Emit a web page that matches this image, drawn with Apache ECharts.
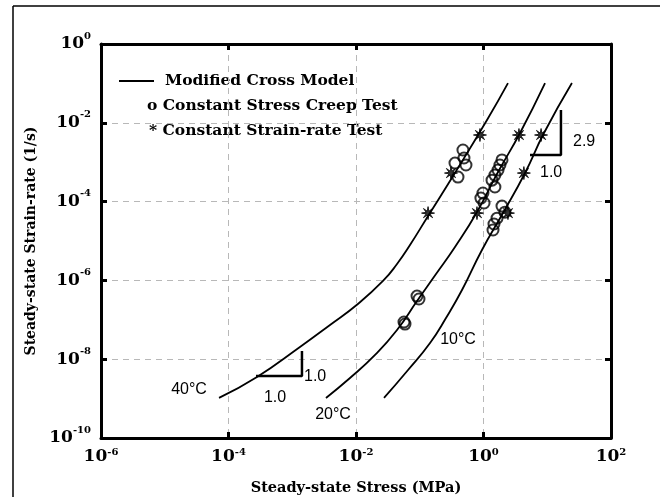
<!DOCTYPE html>
<html>
<head>
<meta charset="utf-8">
<script src="https://cdn.jsdelivr.net/npm/echarts@6/dist/echarts.min.js"></script>
<style>
  html, body { margin: 0; padding: 0; background: #fff; }
  #chart { width: 660px; height: 497px; }
</style>
</head>
<body>
<div id="chart"></div>
<script>
// Modified Cross Model curves: [stress (MPa), strain-rate (1/s)]
const curve40 = [
  [7.10e-5, 1.04e-9], [2.80e-4, 3.53e-9], [1.32e-3, 2.04e-8], [3.91e-3, 7.38e-8],
  [1.07e-2, 2.52e-7], [2.65e-2, 9.66e-7], [4.40e-2, 2.61e-6], [7.03e-2, 7.91e-6],
  [0.135, 4.31e-5], [0.333, 4.47e-4], [1.135, 1.18e-2], [2.42, 0.102]
]
const curve20 = [
  [3.38e-3, 1.04e-9], [8.05e-3, 3.33e-9], [1.99e-2, 1.28e-8], [4.40e-2, 5.51e-8],
  [9.06e-2, 3.00e-7], [0.180, 1.45e-6], [0.357, 7.04e-6], [0.791, 5.45e-5],
  [1.69, 5.64e-4], [3.74, 5.51e-3], [9.23, 0.102]
]
const curve10 = [
  [2.75e-2, 1.04e-9], [6.55e-2, 5.32e-9], [0.145, 2.58e-8], [0.258, 1.11e-7],
  [0.460, 5.70e-7], [0.946, 5.91e-6], [2.02, 5.14e-5], [4.48, 5.32e-4],
  [8.89, 5.51e-3], [24.4, 0.102]
]
// constant stress creep test (o)
const creepTest = [
  [0.476, 2.04e-3], [0.494, 1.28e-3], [0.357, 9.5e-4], [0.531, 8.5e-4], [0.398, 4.2e-4],
  [1.95, 1.14e-3], [1.81, 8.5e-4], [1.69, 6.3e-4], [1.51, 4.7e-4], [1.36, 3.5e-4],
  [1.51, 2.35e-4], [0.98, 1.65e-4], [0.91, 1.23e-4], [1.02, 9.2e-5],
  [1.95, 7.7e-5], [2.17, 5.4e-5], [1.63, 3.8e-5], [1.46, 2.7e-5], [1.41, 1.9e-5],
  [0.0906, 4.0e-7], [0.0973, 3.37e-7], [0.0566, 8.8e-8], [0.0587, 7.8e-8]
]
// constant strain-rate test (*)
const strainRateTest = [
  [0.88, 4.9e-3], [3.6, 4.9e-3], [8.0, 4.9e-3],
  [0.309, 5.3e-4], [4.3, 5.3e-4],
  [0.135, 5.1e-5], [0.79, 5.1e-5], [2.42, 5.1e-5]
]
// slope triangles
const slopeUpper = [[5.36, 1.52e-3], [16.4, 1.52e-3], [16.4, 2.11e-2]]
const slopeLower = [[2.70e-4, 3.75e-9], [1.42e-3, 3.75e-9], [1.42e-3, 1.61e-8]]

const toLog = arr => arr.map(p => [Math.log10(p[0]), Math.log10(p[1])])

// 8-armed asterisk shape
function asteriskPath() {
  const pts = []
  for (let k = 0; k < 16; k++) {
    const a = (k * 22.5 - 90) * Math.PI / 180
    const r = k % 2 === 0 ? 10 : 3.2
    pts.push((10 + r * Math.cos(a)).toFixed(2) + ',' + (10 + r * Math.sin(a)).toFixed(2))
  }
  return 'path://M' + pts.join('L') + 'Z'
}

const serif = 'DejaVu Serif'
const sans = 'Liberation Sans'
const richFor = lh => ({
  b: { fontFamily: serif, fontWeight: 'bold', fontSize: 17, color: '#000', lineHeight: lh },
  s: { fontFamily: serif, fontWeight: 'bold', fontSize: 10, color: '#000', verticalAlign: 'top', lineHeight: lh }
})
const expLabel = v => '{b|10}{s|' + Math.round(v) + '}'

const chart = echarts.init(document.getElementById('chart'))

const boxAxis = {
  axisLine: { show: true, onZero: false, lineStyle: { color: '#000', width: 3 } },
  axisTick: { show: true, inside: true, length: 6, lineStyle: { color: '#000', width: 3 } },
  axisLabel: { show: false },
  splitLine: { show: false }
}

const curveLine = {
  type: 'line',
  xAxisIndex: 0,
  yAxisIndex: 0,
  showSymbol: false,
  smooth: 0.5,
  silent: true,
  lineStyle: { color: '#000', width: 1.8 }
}

const annotation = (text, x, y, align) => ({
  type: 'text',
  x: x,
  y: y,
  style: {
    text: text,
    fontFamily: sans,
    fontSize: 16,
    fill: '#000',
    align: align || 'center',
    verticalAlign: 'middle'
  }
})

const legendText = (text, x, y) => ({
  type: 'text',
  x: x,
  y: y,
  style: {
    text: text,
    fontFamily: serif,
    fontWeight: 'bold',
    fontSize: 15.5,
    fill: '#000',
    align: 'left',
    verticalAlign: 'middle'
  }
})

chart.setOption({
  animation: false,
  backgroundColor: '#fff',
  grid: { left: 101, top: 44, width: 510, height: 394, outerBoundsMode: 'none', containLabel: false },
  xAxis: [
    {
      type: 'value',
      position: 'bottom',
      min: -6,
      max: 2,
      interval: 2,
      name: 'Steady-state Stress (MPa)',
      nameLocation: 'middle',
      nameGap: 43,
      nameTextStyle: { fontFamily: serif, fontWeight: 'bold', fontSize: 14.5, color: '#000' },
      axisLine: { onZero: false, lineStyle: { color: '#000', width: 3 } },
      axisTick: { inside: true, length: 6, lineStyle: { color: '#000', width: 3 } },
      axisLabel: { formatter: expLabel, rich: richFor(20), margin: 9 },
      splitLine: { show: true, lineStyle: { color: '#b8b8b8', width: 1, type: [6, 5] } }
    },
    Object.assign({ type: 'value', position: 'top', min: -6, max: 2, interval: 2 }, boxAxis)
  ],
  yAxis: [
    {
      type: 'value',
      position: 'left',
      min: -10,
      max: 0,
      interval: 2,
      name: 'Steady-state Strain-rate (1/s)',
      nameLocation: 'middle',
      nameGap: 61,
      nameTextStyle: { fontFamily: serif, fontWeight: 'bold', fontSize: 14, color: '#000' },
      axisLine: { show: true, onZero: false, lineStyle: { color: '#000', width: 3 } },
      axisTick: { show: true, inside: true, length: 6, lineStyle: { color: '#000', width: 3 } },
      axisLabel: { formatter: expLabel, rich: richFor(26), margin: 10 },
      splitLine: { show: true, lineStyle: { color: '#b8b8b8', width: 1, type: [6, 5] } }
    },
    Object.assign({ type: 'value', position: 'right', min: -10, max: 0, interval: 2 }, boxAxis)
  ],
  series: [
    Object.assign({ name: '40°C', data: toLog(curve40) }, curveLine),
    Object.assign({ name: '20°C', data: toLog(curve20) }, curveLine),
    Object.assign({ name: '10°C', data: toLog(curve10) }, curveLine),
    {
      name: 'Constant Stress Creep Test',
      type: 'scatter',
      data: toLog(creepTest),
      symbol: 'circle',
      symbolSize: 11,
      silent: true,
      itemStyle: { color: 'rgba(0,0,0,0)', borderColor: '#000', borderWidth: 2 }
    },
    {
      name: 'Constant Strain-rate Test',
      type: 'scatter',
      data: toLog(strainRateTest),
      symbol: asteriskPath(),
      symbolSize: 13,
      silent: true,
      itemStyle: { color: '#000', borderColor: '#000', borderWidth: 1 }
    },
    {
      type: 'line',
      data: toLog(slopeUpper),
      showSymbol: false,
      silent: true,
      lineStyle: { color: '#000', width: 2.5 }
    },
    {
      type: 'line',
      data: toLog(slopeLower),
      showSymbol: false,
      silent: true,
      lineStyle: { color: '#000', width: 2.5 }
    }
  ],
  graphic: [
    // outer frame
    { type: 'line', shape: { x1: 13, y1: 6, x2: 660, y2: 6 }, style: { stroke: '#000', lineWidth: 1.5 } },
    { type: 'line', shape: { x1: 13, y1: 6, x2: 13, y2: 497 }, style: { stroke: '#000', lineWidth: 1.5 } },
    // legend
    { type: 'line', shape: { x1: 119, y1: 81, x2: 154, y2: 81 }, style: { stroke: '#000', lineWidth: 2 } },
    legendText('Modified Cross Model', 165, 81),
    legendText('o Constant Stress Creep Test', 147, 106),
    legendText('* Constant Strain-rate Test', 149, 131),
    // curve and slope annotations
    annotation('40°C', 189, 390),
    annotation('20°C', 333, 415),
    annotation('10°C', 458, 340),
    annotation('1.0', 275, 398),
    annotation('1.0', 304, 377, 'left'),
    annotation('2.9', 573, 142, 'left'),
    annotation('1.0', 540, 173, 'left')
  ]
})
</script>
</body>
</html>
